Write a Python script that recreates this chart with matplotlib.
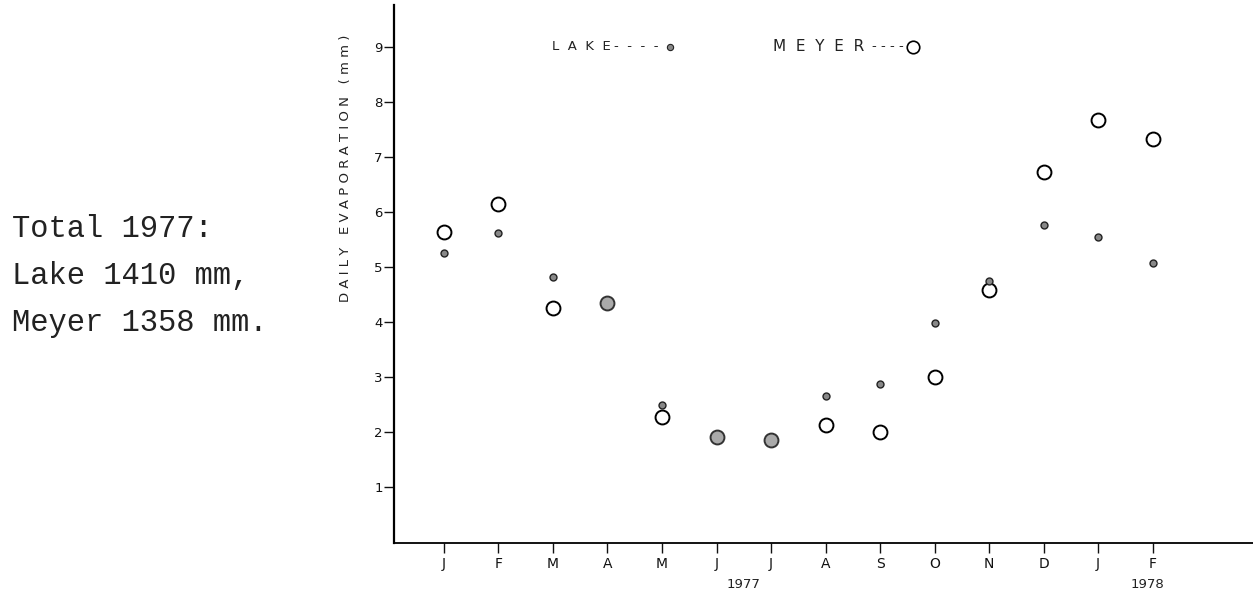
import numpy as np
import matplotlib.pyplot as plt

# monthly means of daily evaporation, Jan 1977 - Feb 1978
months = ["J", "F", "M", "A", "M", "J", "J", "A", "S", "O", "N", "D", "J", "F"]
lake = [5.25, 5.62, 4.82, 4.35, 2.49, 1.91, 1.85, 2.65, 2.87, 3.98, 4.75, 5.76, 5.55, 5.07]
meyer = [5.64, 6.15, 4.25, 4.35, 2.27, 1.91, 1.85, 2.13, 2.00, 3.00, 4.58, 6.73, 7.67, 7.33]
yticks = [1, 2, 3, 4, 5, 6, 7, 8, 9]

x = np.arange(len(months))
lake = np.array(lake)
meyer = np.array(meyer)
same = np.abs(lake - meyer) < 0.05

fig = plt.figure(figsize=(12.53, 6.01), dpi=100)
ax = fig.add_axes([0.3144, 0.0965, 0.6856, 0.8952])

# open circles for Meyer, small dots for the lake pan
ax.plot(x[~same], meyer[~same], "o", ms=10, mfc="white", mec="black", mew=1.4, zorder=3)
ax.plot(x[~same], lake[~same], "o", ms=5, mfc="#888888", mec="#222222", mew=1.0, zorder=4)
# months where both readings coincide
ax.plot(x[same], meyer[same], "o", ms=10, mfc="#aaaaaa", mec="#333333", mew=1.4, zorder=3)

ax.set_xlim(-0.917, 14.84)
ax.set_ylim(-0.02, 9.76)

for s in ["top", "right"]:
    ax.spines[s].set_visible(False)
ax.spines["left"].set_linewidth(1.6)
ax.spines["bottom"].set_linewidth(1.3)

ax.set_xticks(x)
ax.set_xticklabels(months, fontsize=10, family="DejaVu Sans")
ax.set_yticks(yticks)
ax.set_yticklabels([str(v) for v in yticks], fontsize=9.5, family="DejaVu Sans")
ax.tick_params(axis="x", length=7, width=1.0, pad=3, colors="#111111")
ax.tick_params(axis="y", length=7, width=1.0, pad=1, colors="#111111")

def spaced(s, gap=" "):
    return gap.join(s)

# key drawn inside the plot area
ax.text(1.98, 9.0, spaced("LAKE", "  "), fontsize=9.5, va="center", ha="left", color="#222222")
ax.text(3.12, 9.0, "-  -  -  -", fontsize=9.5, va="center", ha="left", color="#222222")
ax.plot([4.15], [9.0], "o", ms=4.5, mfc="#888888", mec="#222222", mew=0.8, clip_on=False)
ax.text(6.04, 9.0, spaced("MEYER", "  "), fontsize=11, va="center", ha="left", color="#222222")
ax.text(7.86, 9.0, "- - - -", fontsize=9.5, va="center", ha="left", color="#222222")
ax.plot([8.6], [9.0], "o", ms=9, mfc="white", mec="black", mew=1.2, clip_on=False)

ax.text(5.5, -0.78, "1977", fontsize=9.5, ha="center", va="center", color="#222222")
ax.text(12.9, -0.78, "1978", fontsize=9.5, ha="center", va="center", color="#222222")

ylab = "   ".join(spaced(w) for w in ["DAILY", "EVAPORATION", "(mm)"])
fig.text(345 / 1253, 1 - 168 / 601, ylab, rotation=90, fontsize=9.5,
         ha="center", va="center", color="#222222")

mono = "Liberation Mono"
fig.text(0.0096, 1 - 229 / 601, "Total 1977:", fontsize=22, family=mono, va="center", color="#222222")
fig.text(0.0096, 1 - 276 / 601, "Lake 1410 mm,", fontsize=22, family=mono, va="center", color="#222222")
fig.text(0.0096, 1 - 323 / 601, "Meyer 1358 mm.", fontsize=22, family=mono, va="center", color="#222222")

fig.savefig("out.png", dpi=100)
